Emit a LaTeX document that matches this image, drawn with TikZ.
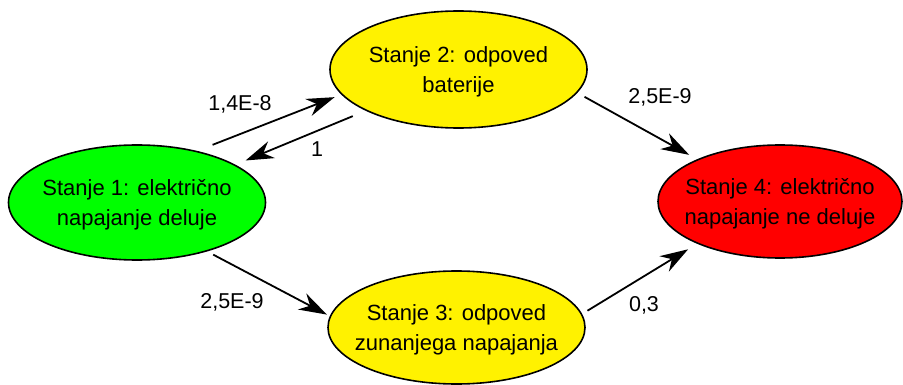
\documentclass[tikz,border=0pt]{standalone}
\usepackage{fontspec}
\setmainfont{Liberation Sans}
\usetikzlibrary{shapes.geometric, arrows.meta}
\tikzset{state/.style n args={3}{
    ellipse, draw, line width=1.6pt, fill=#1,
    minimum width=#2, minimum height=#3,
    inner xsep=-30pt, inner ysep=0pt, outer sep=0pt, text depth=0pt,
    align=center, font=\fontsize{22}{29.5}\selectfont
  },
  trans/.style={line width=1.8pt, -{Stealth[length=28pt, width=18pt, inset=9pt]}},
  rate/.style={anchor=base, font=\fontsize{21.5}{25}\selectfont}
}

\begin{document}
\begin{tikzpicture}[x=1pt, y=-1pt]
      \useasboundingbox (0,0) rectangle (903,385);
      \node[state={green}{257pt}{115pt}] (s1) at (137,202.5) {Stanje 1: električno\\napajanje deluje};
      \node[state={yellow}{257pt}{117pt}] (s2) at (458.5,69.5) {Stanje 2: odpoved\\baterije};
      \node[state={yellow}{257pt}{113pt}] (s3) at (456.5,327.5) {Stanje 3: odpoved\\zunanjega napajanja};
      \node[state={red}{244pt}{113pt}] (s4) at (780,201.5) {Stanje 4: električno\\napajanje ne deluje};
      \draw[trans, shorten <=18pt, shorten >=8pt] (s1.41) -- (s2.192);
      \draw[trans, shorten <=15pt, shorten >=12pt] (s2.204) -- (s1.21);
      \draw[trans, shorten <=9pt, shorten >=10pt] (s2.349) -- (s4.153);
      \draw[trans, shorten <=8pt, shorten >=4pt] (s1.325) -- (s3.175);
      \draw[trans, shorten <=7pt, shorten >=11.5pt] (s3.6) -- (s4.207);
      \node[rate] (r12) at (240,110.7) {1,4E-8};
      \node[rate] (r21) at (317,157) {1};
      \node[rate] (r24) at (660,103.3) {2,5E-9};
      \node[rate] (r13) at (232,308.3) {2,5E-9};
      \node[rate] (r34) at (644,311.7) {0,3};
\end{tikzpicture}
\end{document}
